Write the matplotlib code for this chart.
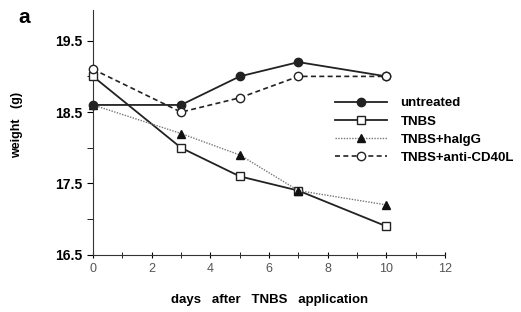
import matplotlib
matplotlib.use('Agg')
from matplotlib import pyplot as plt
from matplotlib.ticker import MultipleLocator

days = [0, 3, 5, 7, 10]
untreated = [18.6, 18.6, 19.0, 19.2, 19.0]
tnbs = [19.0, 18.0, 17.6, 17.4, 16.9]
tnbs_haigg = [18.6, 18.2, 17.9, 17.4, 17.2]
tnbs_cd40l = [19.1, 18.5, 18.7, 19.0, 19.0]

plt.rcParams.update({'font.family': ['Liberation Sans', 'DejaVu Sans'], 'font.weight': 'bold'})

fig = plt.figure(figsize=(5.21, 3.12), dpi=100)
ax = fig.add_axes([0.1785, 0.183, 0.676, 0.785])

ax.plot(days, untreated, color='#222222', lw=1.3, marker='o', ms=6,
        mfc='#222222', mec='#222222', label='untreated', clip_on=False, zorder=4)
ax.plot(days, tnbs, color='#222222', lw=1.3, marker='s', ms=6,
        mfc='white', mec='#222222', label='TNBS', clip_on=False, zorder=3)
ax.plot(days, tnbs_haigg, color='#777777', lw=1.0, ls=(0, (1, 1)), marker='^', ms=6,
        mfc='#111111', mec='#111111', label='TNBS+haIgG', clip_on=False, zorder=3)
ax.plot(days, tnbs_cd40l, color='#222222', lw=1.2, ls=(0, (3, 2)), marker='o', ms=6,
        mfc='white', mec='#222222', label='TNBS+anti-CD40L', clip_on=False, zorder=5)

ax.set_xlim(0, 12)
ax.set_ylim(16.5, 19.93)
ax.xaxis.set_major_locator(MultipleLocator(2))
ax.xaxis.set_minor_locator(MultipleLocator(1))
ax.set_yticks([16.5, 17.5, 18.5, 19.5])
ax.set_yticks([17.0, 18.0, 19.0], minor=True)
ax.spines['top'].set_visible(False)
ax.spines['right'].set_visible(False)
ax.spines['left'].set_color('#333333')
ax.spines['bottom'].set_color('#333333')
ax.tick_params(axis='y', which='both', direction='out', length=4, labelsize=10)
ax.tick_params(axis='x', which='both', direction='inout', length=4, labelsize=9,
               labelcolor='#555555')
for lab in ax.get_xticklabels():
    lab.set_fontweight('normal')

ax.set_ylabel('weight   (g)', fontsize=9, fontweight='bold')
ax.yaxis.set_label_coords(-0.2, 0.53)
ax.set_xlabel('days   after   TNBS   application', fontsize=9.5, fontweight='bold', labelpad=14)

ax.legend(loc='center left', bbox_to_anchor=(0.652, 0.508), frameon=False, fontsize=9.5,
          handlelength=4.0, labelspacing=0.45, handletextpad=1.0)

fig.text(0.035, 0.925, 'a', fontsize=15, fontweight='bold')

fig.savefig('out.png', dpi=100)
